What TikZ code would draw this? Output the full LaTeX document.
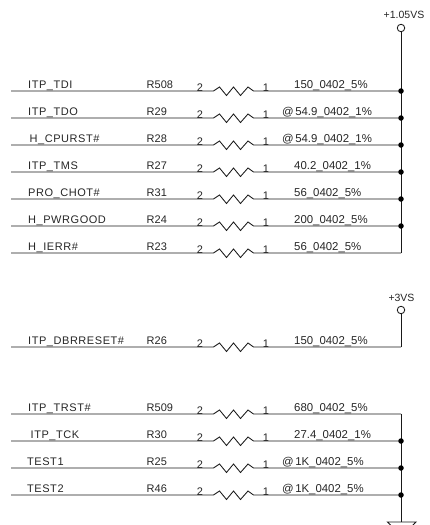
\documentclass[tikz,border=0pt]{standalone}
\usepackage{fontspec}
\setmainfont{Liberation Sans}
\newfontfamily\signalfont[LetterSpace=5]{Liberation Sans}
\usepackage{xcolor}

\tikzset{
	wire/.style={line width=0.85pt,color=black!90},
	label/.style={anchor=base west,inner sep=0pt,font=\fontsize{11}{11}\selectfont,text=black!85},
	signallabel/.style={label,font=\fontsize{11}{11}\signalfont},
	valuelabel/.style={label,font=\fontsize{11.4}{11}\selectfont},
	pinlabel/.style={anchor=base,inner sep=0pt,font=\fontsize{11}{11}\selectfont,text=black!85},
	railtext/.style={anchor=base,inner sep=0pt,font=\fontsize{10.5}{11}\selectfont,text=black!85},
	junction/.style={circle,fill=black,inner sep=0pt,minimum size=5.5pt},
	supply/.style={circle,draw=black!90,line width=0.85pt,fill=white,inner sep=0pt,minimum size=7.5pt}
}

\begin{document}
\begin{tikzpicture}[x=1pt,y=-1pt]
	\clip (0,0) rectangle (429,525);
	% the resistor rows
	\foreach \n/\ypos/\xsig/\signal/\refdes/\xval/\val in {
		1/91/28/ITP\_TDI/R508/294/150\_0402\_5\%,
		2/118/28/ITP\_TDO/R29/282/@\kern1.5pt54.9\_0402\_1\%,
		3/145/29.5/H\_CPURST\#/R28/282/@\kern1.5pt54.9\_0402\_1\%,
		4/172/28/ITP\_TMS/R27/294/40.2\_0402\_1\%,
		5/199/28/PRO\_CHOT\#/R31/294/56\_0402\_5\%,
		6/226/28/H\_PWRGOOD/R24/294/200\_0402\_5\%,
		7/253/28/H\_IERR\#/R23/294/56\_0402\_5\%,
		8/347/28/ITP\_DBRRESET\#/R26/294/150\_0402\_5\%,
		9/414/28/ITP\_TRST\#/R509/294/680\_0402\_5\%,
		10/441/30.5/ITP\_TCK/R30/294/27.4\_0402\_1\%,
		11/468/27/TEST1/R25/282/@\kern1.5pt1K\_0402\_5\%,
		12/495/27/TEST2/R46/282/@\kern1.5pt1K\_0402\_5\%}
	{
		\coordinate (start\n) at (11,\ypos);
		\coordinate (end\n) at (401,\ypos);
		\node[signallabel] (signal\n) at (\xsig,\ypos-2.5) {\signal};
		\node[label] (ref\n) at (146.5,\ypos-2.5) {\refdes};
		\node[pinlabel] (pinb\n) at (200,\ypos+0.3) {2};
		\node[pinlabel] (pina\n) at (266,\ypos+0.3) {1};
		\node[valuelabel] (val\n) at (\xval,\ypos-2.5) {\val};
		\draw[wire] (start\n) -- (213.5,\ypos) -- ++(6,-4) -- ++(7,8.5) -- ++(7,-8.5)
			-- ++(7,8.5) -- ++(7.5,-8.5) -- (253.5,\ypos) -- (end\n);
	}
	% supplies
	\node[supply] (vcca) at (401,28) {};
	\node[railtext] (vccatext) at (404,18.5) {+1.05VS};
	\node[supply] (vccb) at (401,310) {};
	\node[railtext] (vccbtext) at (401.5,301) {+3VS};
	\coordinate (gnd) at (401,522);
	% rails
	\draw[wire] (vcca) -- (end7);
	\draw[wire] (vccb) -- (end8);
	\draw[wire] (end9) -- (gnd);
	\draw[wire] (387.5,522) -- (416,522) -- (401.75,536) -- cycle;
	% dots on the rails
	\foreach \n in {1,2,3,4,5,6,10,11,12}
		\node[junction] (dot\n) at (end\n) {};
\end{tikzpicture}
\end{document}
